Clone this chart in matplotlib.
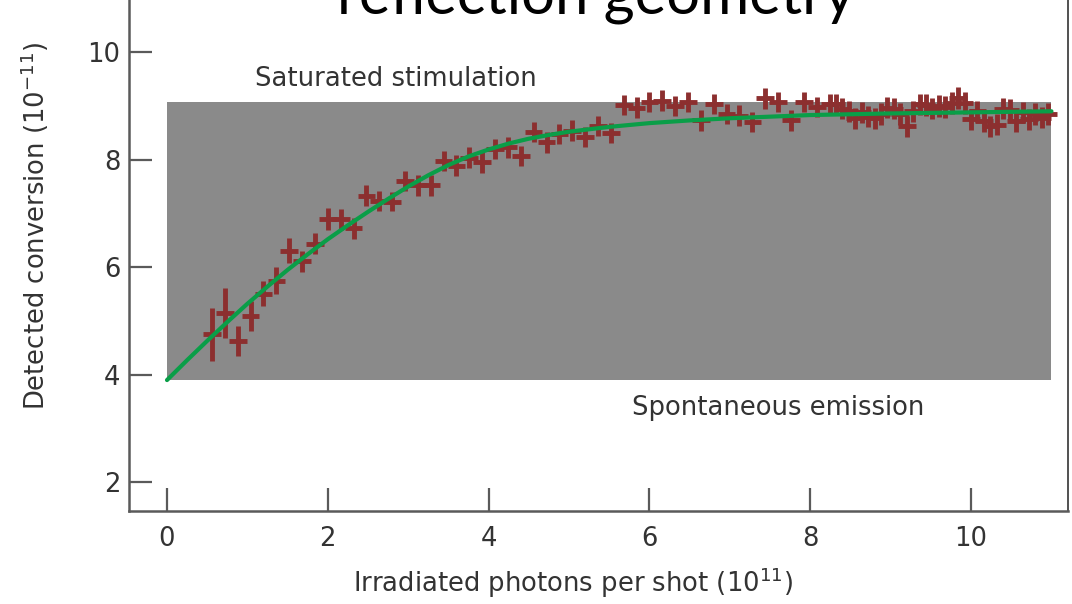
import matplotlib
matplotlib.use("Agg")
import matplotlib.pyplot as plt

# ---------------- data ----------------
pts_x = [0.56, 0.72, 0.88, 1.04, 1.20, 1.36, 1.52, 1.68, 1.84, 2.00,
         2.16, 2.32, 2.48, 2.64, 2.80, 2.96, 3.12, 3.28, 3.44, 3.60,
         3.76, 3.92, 4.08, 4.24, 4.40, 4.56, 4.72, 4.88, 5.04, 5.20,
         5.36, 5.52, 5.68, 5.84, 6.00, 6.16, 6.32, 6.48, 6.64, 6.80,
         6.96, 7.12, 7.28, 7.44, 7.60, 7.76, 7.92, 8.08, 8.24,
         8.32, 8.40, 8.48, 8.56, 8.64, 8.72, 8.80, 8.88, 8.96, 9.04,
         9.12, 9.20, 9.28, 9.36, 9.44, 9.52, 9.60, 9.68, 9.76, 9.84,
         9.92, 10.00, 10.08, 10.16, 10.24, 10.32, 10.40, 10.48, 10.56, 10.64,
         10.72, 10.80, 10.88, 10.96]
pts_y = [4.75, 5.15, 4.63, 5.10, 5.51, 5.75, 6.31, 6.11, 6.44, 6.90,
         6.89, 6.72, 7.33, 7.23, 7.22, 7.60, 7.52, 7.52, 7.98, 7.89,
         8.04, 7.95, 8.20, 8.23, 8.07, 8.51, 8.32, 8.48, 8.54, 8.42,
         8.63, 8.50, 9.02, 8.97, 9.07, 9.10, 9.00, 9.07, 8.73, 9.04,
         8.85, 8.82, 8.70, 9.14, 9.07, 8.73, 9.07, 8.98, 9.04,
         9.03, 8.95, 8.90, 8.77, 8.88, 8.80, 8.77, 8.85, 8.97, 8.95,
         8.85, 8.62, 8.90, 9.03, 9.02, 8.95, 9.00, 8.98, 9.05, 9.15,
         9.05, 8.75, 8.90, 8.72, 8.62, 8.65, 8.95, 8.92, 8.72, 8.88,
         8.75, 8.85, 8.78, 8.85]
pts_yerr = [0.50, 0.46, 0.28, 0.28, 0.23, 0.25, 0.23, 0.20, 0.20, 0.20,
            0.19, 0.20, 0.19, 0.18, 0.18, 0.19, 0.19, 0.19, 0.19, 0.19,
            0.19, 0.19, 0.19, 0.19, 0.19, 0.19, 0.19, 0.19, 0.19, 0.19,
            0.19, 0.19, 0.19, 0.19, 0.19, 0.19, 0.19, 0.19, 0.19, 0.19,
            0.19, 0.19, 0.19, 0.19, 0.19, 0.19, 0.19, 0.19, 0.19,
            0.20, 0.20, 0.20, 0.20, 0.20, 0.20, 0.20, 0.20, 0.20, 0.20,
            0.20, 0.20, 0.20, 0.20, 0.20, 0.20, 0.20, 0.20, 0.20, 0.20,
            0.20, 0.20, 0.20, 0.20, 0.20, 0.20, 0.20, 0.20, 0.20, 0.20,
            0.20, 0.20, 0.20, 0.20]
pts_xerr = 0.11

fit_x = [0.0, 0.25, 0.5, 0.75, 1.0, 1.25, 1.5, 1.75, 2.0, 2.25, 2.5, 2.75,
         3.0, 3.25, 3.5, 3.75, 4.0, 4.25, 4.5, 4.75, 5.0, 5.5,
         6.0, 6.5, 7.0, 7.5, 8.0, 9.0, 10.0, 11.0]
fit_y = [3.90, 4.27, 4.63, 4.98, 5.32, 5.64, 5.95, 6.24, 6.52, 6.78, 7.03, 7.27,
         7.50, 7.71, 7.90, 8.06, 8.19, 8.30, 8.39, 8.46, 8.52, 8.61,
         8.68, 8.73, 8.77, 8.80, 8.83, 8.86, 8.88, 8.90]

band_x = [0.0, 11.0]
band_low = 3.9
band_high = 9.08

x_ticks = [0, 2, 4, 6, 8, 10]
y_ticks = [2, 4, 6, 8, 10]

# ---------------- style ----------------
plt.rcParams['font.family'] = ['DejaVu Sans']
plt.rcParams['mathtext.default'] = 'regular'
FS = 18.6
TXT = '#333333'
RED = '#8c2f2f'
GREEN = '#0a9e48'
GREY = '#8a8a8a'
SPINE = '#5a5a5a'

fig = plt.figure(figsize=(10.72, 6.04), dpi=100)
ax = fig.add_axes([0.1206, 0.154, 0.8760, 0.846])
ax.set_xlim(-0.469, 11.21)
ax.set_ylim(1.465, 10.97)

ax.fill_between(band_x, band_low, band_high, color=GREY, lw=0, zorder=1)
ax.errorbar(pts_x, pts_y, xerr=pts_xerr, yerr=pts_yerr, fmt='none',
            ecolor=RED, elinewidth=3.5, capsize=0, zorder=2)
ax.plot(fit_x, fit_y, color=GREEN, lw=3.0, zorder=3, solid_capstyle='round',
        solid_joinstyle='round')

ax.text(1.09, 9.50, 'Saturated stimulation', fontsize=FS, color=TXT,
        ha='left', va='center')
ax.text(5.78, 3.38, 'Spontaneous emission', fontsize=FS, color=TXT,
        ha='left', va='center')

ax.set_xticks(x_ticks)
ax.set_yticks(y_ticks)
ax.tick_params(direction='in', length=16.5, width=1.6, color=SPINE,
               labelsize=FS, labelcolor=TXT)
ax.tick_params(axis='x', pad=10.5)
ax.tick_params(axis='y', pad=6.5)

ax.spines['top'].set_visible(False)
for s in ['left', 'bottom']:
    ax.spines[s].set_color(SPINE)
    ax.spines[s].set_linewidth(1.8)
ax.spines['right'].set_color('#333333')
ax.spines['right'].set_linewidth(1.2)
ax.set_facecolor('white')

fig.text(573 / 1072, 1 - 583 / 604, 'Irradiated photons per shot (10$^{11}$)',
         fontsize=FS, color=TXT, ha='center', va='center')
fig.text(35 / 1072, 1 - 226 / 604, 'Detected conversion (10$^{-11}$)',
         fontsize=FS, color=TXT, ha='center', va='center', rotation=90)

fig.text(337 / 1072, 1 - 14 / 604, 'reflection geometry', fontsize=43,
         family=['Lato', 'DejaVu Sans'], color='black', ha='left', va='baseline')

fig.savefig('out.png', dpi=100)
